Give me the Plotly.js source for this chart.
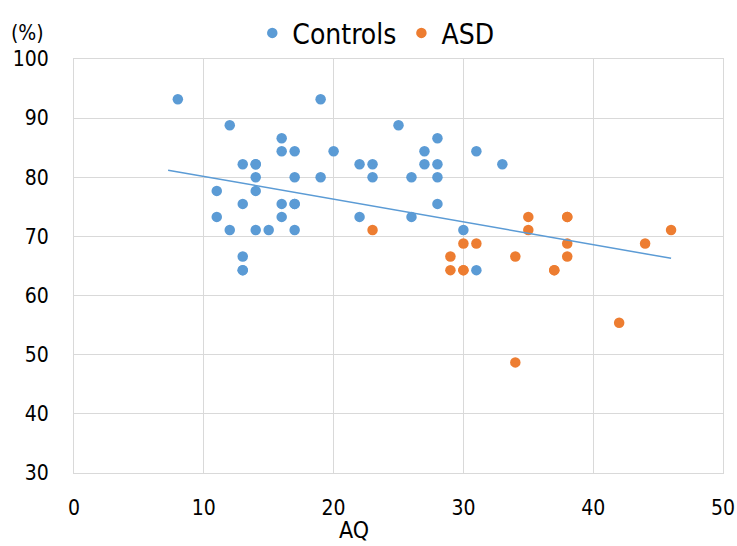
<!DOCTYPE html>
<html>
<head>
<meta charset="utf-8">
<script src="https://cdn.plot.ly/plotly-3.0.1.min.js"></script>
<style>html,body{margin:0;padding:0;background:#fff;}#chart{width:737px;height:546px;}</style>
</head>
<body>
<div id="chart"></div>
<script>
// Controls (AQ, %)
const controlsAQ = [8, 19, 12, 16, 16, 17, 20, 13, 14, 14, 14, 17, 19, 11, 14, 13, 16, 17, 17, 11, 16, 12, 14, 15, 17, 13, 13, 13,
                    25, 28, 27, 31, 22, 23, 27, 28, 33, 23, 26, 28, 28, 22, 26, 30, 31];
const controlsPct = [93.2, 93.2, 88.8, 86.6, 84.4, 84.4, 84.4, 82.2, 82.2, 82.2, 80.0, 80.0, 80.0, 77.7, 77.7, 75.5, 75.5, 75.5, 75.5, 73.3, 73.3, 71.1, 71.1, 71.1, 71.1, 66.6, 64.3, 64.3,
                     88.8, 86.6, 84.4, 84.4, 82.2, 82.2, 82.2, 82.2, 82.2, 80.0, 80.0, 80.0, 75.5, 73.3, 73.3, 71.1, 64.3];
// ASD (AQ, %)
const asdAQ = [23, 30, 31, 29, 34, 29, 30, 30, 35, 35, 38, 38, 38, 38, 44, 46, 37, 37, 42, 34];
const asdPct = [71.1, 68.8, 68.8, 66.6, 66.6, 64.3, 64.3, 64.3, 73.3, 71.1, 73.3, 73.3, 68.8, 66.6, 68.8, 71.1, 64.3, 64.3, 55.4, 48.7];
// Linear trendline endpoints
const trendAQ = [7.25, 46.0];
const trendPct = [81.2, 66.3];

const xTicks = [0, 10, 20, 30, 40, 50];
const yTicks = [30, 40, 50, 60, 70, 80, 90, 100];

const FONT = '"DejaVu Sans Condensed", "Liberation Sans Narrow", sans-serif';
const BLUE = '#5b9bd5', ORANGE = '#ed7d31', GRID = '#d9d9d9';

const data = [
  {x: controlsAQ, y: controlsPct, type: 'scatter', mode: 'markers', name: 'Controls',
   marker: {color: BLUE, size: 10.5, line: {width: 0}}},
  {x: asdAQ, y: asdPct, type: 'scatter', mode: 'markers', name: 'ASD',
   marker: {color: ORANGE, size: 10.5, line: {width: 0}}},
  {x: trendAQ, y: trendPct, type: 'scatter', mode: 'lines', showlegend: false,
   line: {color: BLUE, width: 1.5}, hoverinfo: 'skip'}
];

const layout = {
  width: 737, height: 546,
  margin: {l: 74, r: 14, t: 59, b: 73, autoexpand: false},
  paper_bgcolor: '#fff', plot_bgcolor: '#fff',
  font: {family: FONT, size: 21, color: '#000'},
  showlegend: true,
  legend: {orientation: 'h', x: 0.465, xanchor: 'center', yref: 'container', y: 0.985, yanchor: 'top',
           font: {family: FONT, size: 28, color: '#000'}, itemsizing: 'trace', itemwidth: 30,
           traceorder: 'normal', bgcolor: 'rgba(0,0,0,0)'},
  xaxis: {range: [0, 50], tickvals: xTicks, ticktext: xTicks.map(String), showgrid: true, gridcolor: GRID, gridwidth: 1,
          zeroline: false, showline: true, linecolor: GRID, mirror: true, ticks: '', automargin: false,
          ticklabeloverflow: 'allow', ticklabelstandoff: 16, tickfont: {family: FONT, size: 21, color: '#000'}},
  yaxis: {range: [30, 100], tickvals: yTicks, ticktext: yTicks.map(String), showgrid: true, gridcolor: GRID, gridwidth: 1,
          zeroline: false, showline: true, linecolor: GRID, mirror: true, ticks: '', automargin: false,
          ticklabeloverflow: 'allow', ticklabelstandoff: 20, tickfont: {family: FONT, size: 21, color: '#000'}},
  annotations: [
    {text: '(%)', xref: 'paper', yref: 'paper', x: -0.1, y: 1.063, xanchor: 'left', yanchor: 'middle',
     showarrow: false, font: {family: FONT, size: 21, color: '#000'}},
    {text: 'AQ', xref: 'paper', yref: 'paper', x: 0.432, y: -0.172, xanchor: 'center', yanchor: 'bottom',
     borderpad: 0, showarrow: false, font: {family: FONT, size: 23, color: '#000'}}
  ]
};

Plotly.newPlot('chart', data, layout, {displayModeBar: false, staticPlot: true});
</script>
</body>
</html>
